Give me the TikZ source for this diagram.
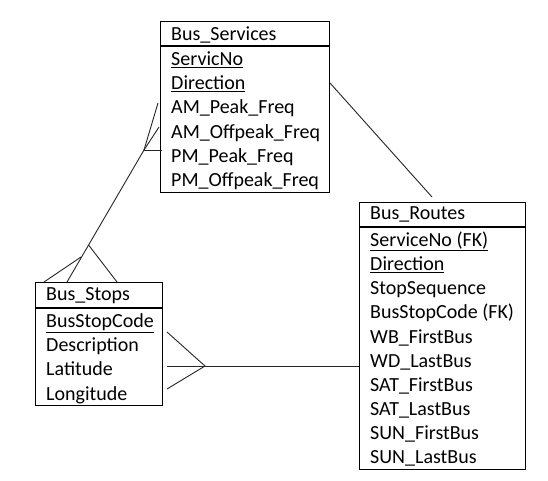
\documentclass[tikz,border=0pt]{standalone}
\usepackage{fontspec}
\setmainfont{Carlito}
\begin{document}
\begin{tikzpicture}[x=1pt,y=-1pt,
  box/.style={draw=black,line width=1.3pt,rectangle,inner sep=0pt,anchor=north west},
  sep/.style={draw=black,line width=1.1pt},
  txt/.style={anchor=base west,inner sep=0pt,font=\fontsize{20}{23}\selectfont,text=black},
  conn/.style={draw=black!85,line width=0.9pt}]
\useasboundingbox[fill=white] (0,0) rectangle (548,480);
% Bus_Services
\node[box,minimum width=169pt,minimum height=171pt] (svc) at (160,21) {};
\draw[sep] (160,46) -- (329,46);
\node[txt] (svch) at (171,40.5) {Bus\_Services};
\node[txt] (svc1) at (171,65.5) {\underline{ServicNo}};
\node[txt] (svc2) at (171,89.7) {\underline{Direction}};
\node[txt] (svc3) at (171,113.9) {AM\_Peak\_Freq};
\node[txt] (svc4) at (171,138.1) {AM\_Offpeak\_Freq};
\node[txt] (svc5) at (171,162.3) {PM\_Peak\_Freq};
\node[txt] (svc6) at (171,186.5) {PM\_Offpeak\_Freq};
% Bus_Routes
\node[box,minimum width=166pt,minimum height=267pt] (rt) at (359,202) {};
\draw[sep] (359,227) -- (525,227);
\node[txt] (rth) at (370,219.5) {Bus\_Routes};
\node[txt] (rt1) at (370,246.5) {\underline{ServiceNo (FK)}};
\node[txt] (rt2) at (370,270.65) {\underline{Direction}};
\node[txt] (rt3) at (370,294.8) {StopSequence};
\node[txt] (rt4) at (370,318.95) {BusStopCode (FK)};
\node[txt] (rt5) at (370,343.1) {WB\_FirstBus};
\node[txt] (rt6) at (370,367.25) {WD\_LastBus};
\node[txt] (rt7) at (370,391.4) {SAT\_FirstBus};
\node[txt] (rt8) at (370,415.55) {SAT\_LastBus};
\node[txt] (rt9) at (370,439.7) {SUN\_FirstBus};
\node[txt] (rt10) at (370,463.85) {SUN\_LastBus};
% Bus_Stops
\node[box,minimum width=127pt,minimum height=123pt] (st) at (35,282) {};
\draw[sep] (35,308) -- (162,308);
\node[txt] (sth) at (46,300.5) {Bus\_Stops};
\node[txt] (st1) at (46,327.5) {\underline{BusStopCode}};
\node[txt] (st2) at (46,351.7) {Description};
\node[txt] (st3) at (46,375.9) {Latitude};
\node[txt] (st4) at (46,400.1) {Longitude};
% connector coordinates
\coordinate (s2r) at (330,83);
\coordinate (r2s) at (432,197);
\coordinate (a1) at (144,150);
\coordinate (a1h) at (162,150);
\coordinate (a1u) at (158,103);
\coordinate (a1m) at (159,127);
\coordinate (a2) at (88.6,245);
\coordinate (bm) at (67,282);
\coordinate (br) at (117,282);
\coordinate (bl) at (44,282);
\coordinate (bl2) at (81,257);
\coordinate (c0) at (167,366);
\coordinate (ca) at (205,366);
\coordinate (cu) at (167,332);
\coordinate (cd) at (167,389);
\coordinate (ce) at (359,366);
% connectors
\draw[conn] (s2r) -- (r2s);
\draw[conn] (a1) -- (a1h);
\draw[conn] (a1) -- (a1u);
\draw[conn] (a1) -- (a1m);
\draw[conn] (a1) -- (bm);
\draw[conn] (a2) -- (br);
\draw[conn] (bl) -- (bl2);
\draw[conn] (c0) -- (ce);
\draw[conn] (cu) -- (ca) -- (cd);
\end{tikzpicture}
\end{document}
